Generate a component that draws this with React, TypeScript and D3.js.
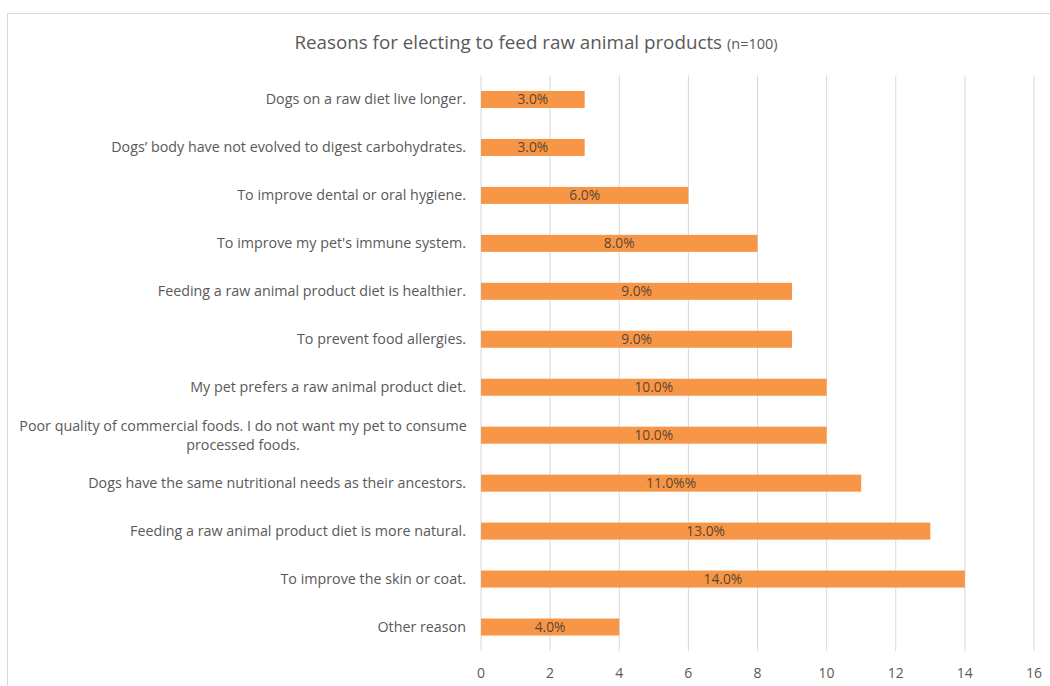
import React, { useEffect } from "react";
import * as d3 from "d3";

const categories: string[][] = [
  ["Dogs on a raw diet live longer."],
  ["Dogs\u2019 body have not evolved to digest carbohydrates."],
  ["To improve dental or oral hygiene."],
  ["To improve my pet's immune system."],
  ["Feeding a raw animal product diet is healthier."],
  ["To prevent food allergies."],
  ["My pet prefers a raw animal product diet."],
  ["Poor quality of commercial foods. I do not want my pet to consume", "processed foods."],
  ["Dogs have the same nutritional needs as their ancestors."],
  ["Feeding a raw animal product diet is more natural."],
  ["To improve the skin or coat."],
  ["Other reason"],
];
const values: number[] = [3, 3, 6, 8, 9, 9, 10, 10, 11, 13, 14, 4];
const valueLabels: string[] = ["3.0%", "3.0%", "6.0%", "8.0%", "9.0%", "9.0%", "10.0%", "10.0%", "11.0%%", "13.0%", "14.0%", "4.0%"];
const xTicks: number[] = [0, 2, 4, 6, 8, 10, 12, 14, 16];

const W = 1050;
const H = 686;
const M = { left: 481, right: 1034, top: 75.5, bottom: 651 };
const FONT = "'Open Sans', sans-serif";
const TEXT = "#595959";
const BAR = "#F79646";
const GRID = "#d9d9d9";

export default function App() {
  useEffect(() => {
    document.body.style.margin = "0";
  }, []);

  const x = d3.scaleLinear().domain([0, 16]).range([M.left, M.right]);
  const y = d3
    .scaleBand<number>()
    .domain(d3.range(categories.length))
    .range([M.top, M.bottom])
    .paddingInner(0.645)
    .paddingOuter(0.3225);
  const bw = y.bandwidth();

  return (
    <svg width={W} height={H} style={{ display: "block", background: "#fff" }}>
      <rect x={7.5} y={13.5} width={W} height={H} fill="#fff" stroke={GRID} strokeWidth={1} />
      <text x={536} y={49} textAnchor="middle" fill={TEXT} fontFamily={FONT} fontSize={18.8}>
        Reasons for electing to feed raw animal products{" "}
        <tspan fontSize={14.5}>(n=100)</tspan>
      </text>
      {xTicks.map((t) => (
        <g key={t}>
          <line x1={x(t)} x2={x(t)} y1={M.top} y2={M.bottom} stroke={GRID} strokeWidth={1} />
          <text x={x(t)} y={678} textAnchor="middle" fill={TEXT} fontFamily={FONT} fontSize={14}>
            {t}
          </text>
        </g>
      ))}
      {values.map((v, i) => {
        const cy = (y(i) as number) + bw / 2;
        return (
          <g key={i}>
            <rect x={x(0)} y={y(i)} width={x(v) - x(0)} height={bw} fill={BAR} />
            <text
              x={(x(0) + x(v)) / 2}
              y={cy + 5}
              textAnchor="middle"
              fill="#5a4634"
              fontFamily={FONT}
              fontSize={13.8}
            >
              {valueLabels[i]}
            </text>
          </g>
        );
      })}
      {categories.map((lines, i) => {
        const cy = (y(i) as number) + bw / 2;
        if (lines.length === 1) {
          return (
            <text key={i} x={466} y={cy + 5} textAnchor="end" fill={TEXT} fontFamily={FONT} fontSize={14.3}>
              {lines[0]}
            </text>
          );
        }
        const lh = 19;
        return (
          <text key={i} x={243} textAnchor="middle" fill={TEXT} fontFamily={FONT} fontSize={14.3}>
            {lines.map((l, k) => (
              <tspan key={k} x={243} y={cy + 5 - ((lines.length - 1) * lh) / 2 + k * lh}>
                {l}
              </tspan>
            ))}
          </text>
        );
      })}
    </svg>
  );
}
